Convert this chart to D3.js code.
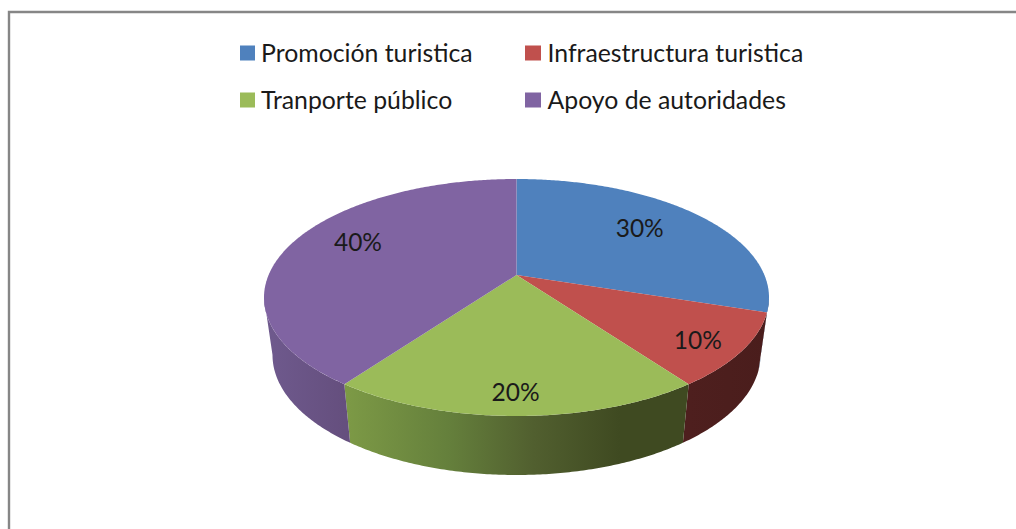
<!DOCTYPE html>
<html>
<head>
<meta charset="utf-8">
<script src="https://cdn.jsdelivr.net/npm/d3@7"></script>
<style>
  html, body { margin: 0; padding: 0; background: #fff; overflow: hidden; }
  text { font-family: Lato, "Open Sans", sans-serif; fill: #1a1a1a; }
</style>
</head>
<body>
<div id="chart-area"></div>
<script>
const width = 1016;
const height = 529;

const categories = ["Promoción turistica", "Infraestructura turistica", "Tranporte público", "Apoyo de autoridades"];
const values = [30, 10, 20, 40];
const valueLabels = ["30%", "10%", "20%", "40%"];
const colors = ["#4f81bd", "#c0504d", "#9bbb59", "#8064a2"];

const svg = d3.select("#chart-area")
    .append("svg")
    .attr("width", width)
    .attr("height", height)
    .style("display", "block");

// chart frame, only top and left show in the crop
svg.append("path")
    .attr("d", `M9,${height} V12 H${width}`)
    .attr("fill", "none")
    .attr("stroke", "#868686")
    .attr("stroke-width", 2.4);

// 3d look: circle seen in perspective, k moves the apex off the ellipse centre
const k = -0.19;
const topFace = { cx: 516.5, cy: 297.5, rx: 252.5, ry: 118.5 };
const baseFace = { cx: 516.5, cy: 355, rx: 244, ry: 120 };

function project(face, angle, f = 1) {
    const u = f * Math.sin(angle);
    const v = -f * Math.cos(angle);
    const den = 1 + k * v;
    return [
        face.cx + face.rx * u * Math.sqrt(1 - k * k) / den,
        face.cy + face.ry * (v + k) / den
    ];
}

function arcPoints(face, a0, a1) {
    const n = Math.max(2, Math.ceil((a1 - a0) / 0.01));
    return d3.range(n + 1).map(i => project(face, a0 + (a1 - a0) * i / n));
}

const pie = d3.pie().value(d => d).sort(null);
const slices = pie(values);
const line = d3.line();

const defs = svg.append("defs");

// horizontal shading of the side walls
const wallStops = [
    [[0, "#6f5a8e"], [1, "#654f7e"]],
    [[0, "#4e1f1e"], [1, "#4a1d1c"]],
    [[0, "#7d9a46"], [0.3, "#65803c"], [0.55, "#515f2f"], [0.8, "#3f4a21"], [1, "#3f4a21"]],
    [[0, "#6f5a8e"], [1, "#654f7e"]]
];
const wallColors = ["#2f5078", wallStops[1], wallStops[2], wallStops[3]];

// the outline's widest points sit below the apex, the walls start there
const rightEdge = Math.PI / 2 + Math.asin(-k);
const leftEdge = Math.PI * 1.5 - Math.asin(-k);

const walls = slices.map((s, i) => {
    const a0 = Math.max(s.startAngle, rightEdge);
    const a1 = Math.min(s.endAngle, leftEdge);
    return { i, a0, a1 };
}).filter(d => d.a1 > d.a0);

walls.forEach(d => {
    const stops = wallColors[d.i];
    let fill = stops;
    if (Array.isArray(stops)) {
        const xs = [project(topFace, d.a0)[0], project(topFace, d.a1)[0]];
        const grad = defs.append("linearGradient")
            .attr("id", "wall" + d.i)
            .attr("gradientUnits", "userSpaceOnUse")
            .attr("x1", d3.min(xs)).attr("x2", d3.max(xs))
            .attr("y1", 0).attr("y2", 0);
        grad.selectAll("stop").data(stops).join("stop")
            .attr("offset", s => s[0])
            .attr("stop-color", s => s[1]);
        fill = `url(#wall${d.i})`;
    }
    svg.append("path")
        .attr("d", line(arcPoints(topFace, d.a0, d.a1).concat(arcPoints(baseFace, d.a0, d.a1).reverse())) + "Z")
        .attr("fill", fill);
});

// top face
svg.selectAll(".slice")
    .data(slices)
    .join("path")
    .attr("class", "slice")
    .attr("fill", (d, i) => colors[i])
    .attr("d", d => line([project(topFace, 0, 0)].concat(arcPoints(topFace, d.startAngle, d.endAngle))) + "Z");

// data labels, nudged by hand like the original best fit
const labelNudge = [[-7, -4], [29, 14], [-1, 24], [0, -10]];

svg.selectAll(".value")
    .data(slices)
    .join("text")
    .attr("class", "value")
    .attr("text-anchor", "middle")
    .attr("dominant-baseline", "central")
    .attr("font-size", 24.5)
    .attr("transform", (d, i) => {
        const p = project(topFace, (d.startAngle + d.endAngle) / 2, 0.7);
        return `translate(${p[0] + labelNudge[i][0]}, ${p[1] + labelNudge[i][1]})`;
    })
    .text((d, i) => valueLabels[i]);

// legend, two rows of two
const legendX = d3.scaleOrdinal().domain([0, 1]).range([240, 525]);
const legendY = d3.scaleOrdinal().domain([0, 1]).range([53, 100]);

const legend = svg.selectAll(".legend")
    .data(categories)
    .join("g")
    .attr("class", "legend")
    .attr("transform", (d, i) => `translate(${legendX(i % 2)}, ${legendY(Math.floor(i / 2))})`);

legend.append("rect")
    .attr("x", 0)
    .attr("y", -7.5)
    .attr("width", (d, i) => i % 2 ? 16 : 15)
    .attr("height", 15)
    .attr("fill", (d, i) => colors[i]);

legend.append("text")
    .attr("x", (d, i) => i % 2 ? 22.5 : 21)
    .attr("y", 9)
    .attr("font-size", 24.8)
    .text(d => d);
</script>
</body>
</html>
